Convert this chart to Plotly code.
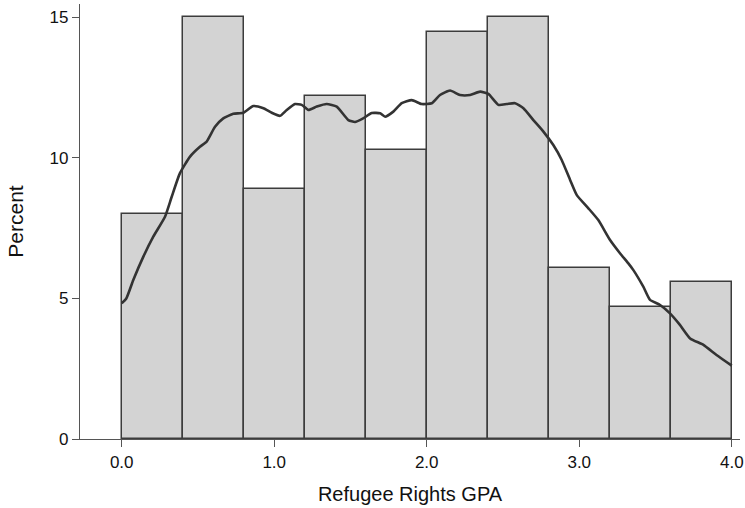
import plotly.graph_objects as go

bin_left = [0.0, 0.4, 0.8, 1.2, 1.6, 2.0, 2.4, 2.8, 3.2, 3.6]
bin_width = 0.4
percent = [8.0, 15.0, 8.9, 12.2, 10.3, 14.5, 15.0, 6.1, 4.7, 5.6]

dens_x = [0.0, 0.03, 0.076, 0.142, 0.207, 0.284, 0.328, 0.382, 0.448, 0.513, 0.557, 0.612,
          0.666, 0.732, 0.797, 0.863, 0.929, 0.984, 1.038, 1.082, 1.136, 1.18, 1.224, 1.279,
          1.344, 1.41, 1.486, 1.53, 1.58, 1.64, 1.694, 1.727, 1.781, 1.836, 1.902, 1.967,
          2.033, 2.087, 2.153, 2.218, 2.284, 2.35, 2.404, 2.47, 2.525, 2.579, 2.634, 2.699,
          2.765, 2.83, 2.885, 2.94, 2.984, 3.06, 3.125, 3.202, 3.267, 3.322, 3.355, 3.42,
          3.464, 3.53, 3.595, 3.66, 3.727, 3.814, 3.9, 4.0]
dens_y = [4.83, 5.0, 5.66, 6.49, 7.2, 7.91, 8.62, 9.46, 10.05, 10.4, 10.58, 11.11,
          11.41, 11.57, 11.61, 11.85, 11.77, 11.61, 11.5, 11.71, 11.92, 11.89, 11.71, 11.83,
          11.92, 11.83, 11.35, 11.28, 11.4, 11.6, 11.59, 11.47, 11.65, 11.95, 12.06, 11.92,
          11.95, 12.24, 12.4, 12.24, 12.24, 12.36, 12.28, 11.89, 11.92, 11.95, 11.77, 11.35,
          10.94, 10.46, 9.93, 9.22, 8.68, 8.21, 7.79, 7.08, 6.61, 6.25, 6.01, 5.42,
          4.95, 4.77, 4.47, 4.06, 3.58, 3.35, 2.99, 2.61]

x_ticks = [0, 1, 2, 3, 4]
x_tick_text = ["0.0", "1.0", "2.0", "3.0", "4.0"]
y_ticks = [0, 5, 10, 15]

bar_centers = [b + bin_width / 2 for b in bin_left]

fig = go.Figure()
fig.add_trace(go.Bar(
    x=bar_centers, y=percent, width=[bin_width] * len(percent),
    marker=dict(color="#d3d3d3", line=dict(color="#3c3c3c", width=1.5)),
    showlegend=False,
))
fig.add_trace(go.Scatter(
    x=dens_x, y=dens_y, mode="lines",
    line=dict(color="#333333", width=2.6, shape="spline", smoothing=0.5),
    showlegend=False,
))

font_family = "Liberation Sans, Arial, sans-serif"
fig.update_layout(
    width=745, height=508,
    margin=dict(l=80, r=5, t=4, b=69),
    paper_bgcolor="white", plot_bgcolor="white",
    font=dict(family=font_family, color="#111111", size=17),
    bargap=0,
    xaxis=dict(
        range=[-0.2734, 4.054], tickvals=x_ticks, ticktext=x_tick_text,
        automargin=False,
        showgrid=False, zeroline=False, showline=True, linecolor="#555555", linewidth=1.2,
        ticks="outside", ticklen=7, tickcolor="#555555", tickwidth=1.2,
        tickfont=dict(size=17),
        title=dict(text="Refugee Rights GPA", font=dict(size=20), standoff=16),
    ),
    yaxis=dict(
        range=[0, 15.48], tickvals=y_ticks,
        automargin=False,
        showgrid=False, zeroline=False, showline=True, linecolor="#555555", linewidth=1.2,
        ticks="outside", ticklen=7, tickcolor="#555555", tickwidth=1.2,
        tickfont=dict(size=17),
        title=dict(text="Percent", font=dict(size=21), standoff=20),
    ),
)

fig.write_html("out.html")
